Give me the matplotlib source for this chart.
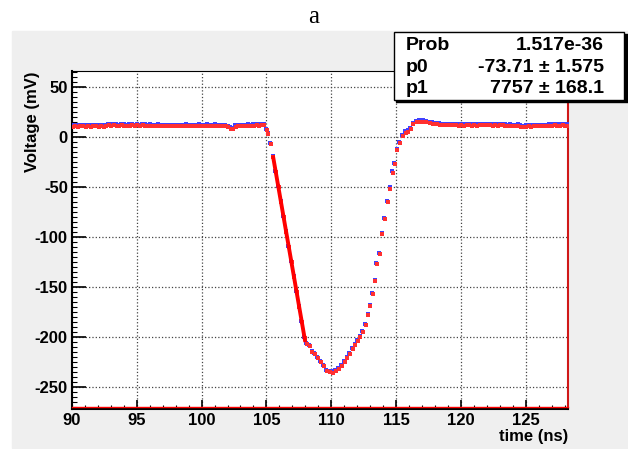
import numpy as np
import matplotlib.pyplot as plt
from matplotlib.patches import Rectangle
from matplotlib.ticker import MultipleLocator
from matplotlib.transforms import offset_copy

plt.rcParams['font.family'] = ['Liberation Sans', 'DejaVu Sans']
plt.rcParams['axes.unicode_minus'] = False

# baseline before the pulse (0.2 ns sampling)
pre_t = np.linspace(90.0, 104.8, 75)
pre_v = [11.8, 12.0, 11.6, 11.9, 12.1, 11.7, 12.0, 11.8, 12.2, 11.9,
         11.7, 12.1, 11.8, 12.4, 12.9, 12.6, 13.1, 12.7, 12.5, 13.0,
         12.6, 12.2, 12.8, 13.2, 12.5, 12.9, 12.4, 13.0, 12.7, 12.3,
         12.8, 12.5, 12.1, 12.6, 12.3, 12.0, 12.4, 11.9, 12.2, 12.5,
         12.1, 12.4, 12.0, 12.3, 12.6, 12.2, 12.5, 12.1, 12.4, 12.7,
         12.3, 12.5, 12.8, 12.4, 12.2, 12.6, 12.3, 12.0, 12.4, 11.9,
         11.5, 9.8, 9.5, 11.8, 12.3, 12.1, 12.5, 12.2, 12.6, 12.4,
         12.8, 13.0, 12.7, 13.2, 12.9]

# the pulse itself
pulse_t = [105.0, 105.1, 105.3, 105.5, 105.7, 105.9, 106.1, 106.3, 106.5,
           106.7, 106.9, 107.1, 107.3, 107.5, 107.7, 107.9, 108.05,
           108.28, 108.49, 108.7, 108.93, 109.16, 109.37, 109.63, 109.83,
           110.08, 110.33, 110.56, 110.77, 110.98, 111.2, 111.4, 111.61,
           111.8, 112.0, 112.2, 112.39, 112.6, 112.8, 112.98, 113.17,
           113.37, 113.48, 113.7, 113.9, 114.1, 114.3, 114.5, 114.7,
           114.87, 115.05, 115.26, 115.5, 115.7, 115.9, 116.1, 116.3,
           116.55, 116.8, 117.07, 117.3, 117.6, 117.8, 118.1, 118.35, 118.6]
pulse_v = [8.0, 4.0, -6.0, -19.0, -34.0, -49.0, -64.0, -79.0, -94.0,
           -109.0, -124.0, -139.0, -154.0, -169.0, -184.0, -200.0, -206.0,
           -208.0, -213.6, -216.0, -220.0, -224.0, -227.5, -232.8, -234.0,
           -234.4, -232.8, -231.0, -227.5, -224.0, -220.0, -216.0, -211.0,
           -207.0, -202.6, -199.0, -193.7, -187.0, -177.0, -168.0, -156.0,
           -142.7, -126.0, -116.0, -96.0, -81.0, -63.6, -50.3, -34.4,
           -26.0, -11.6, -5.0, 2.3, 5.6, 6.6, 9.3, 14.0,
           16.0, 16.6, 16.6, 16.0, 15.2, 14.6, 14.0, 13.6, 13.4]

# baseline after the pulse
post_t = np.linspace(118.8, 128.2, 48)
post_v = [13.3, 13.1, 13.2, 12.9, 13.1, 12.8, 13.0, 12.7, 12.9, 13.1,
          12.8, 13.0, 12.7, 13.2, 12.9, 13.1, 13.4, 13.0, 12.8, 13.1,
          12.7, 12.9, 13.0, 12.6, 12.4, 12.8, 12.5, 12.2, 12.6, 11.8,
          11.4, 11.6, 11.9, 11.7, 12.1, 12.0, 12.3, 12.2, 12.5, 12.4,
          12.7, 12.6, 12.9, 12.8, 12.6, 12.9, 12.7, 12.8]

# linear fit on the leading edge
fit_t = [105.5, 108.0]
fit_v = [-18.5, -205.0]

stat_names = ['Prob', 'p0', 'p1']
stat_values = ['1.517e-36', '-73.71 ± 1.575', '7757 ± 168.1']

t = np.concatenate([pre_t, pulse_t, post_t])
v = np.concatenate([pre_v, pulse_v, post_v])

W, H = 628, 449
fig = plt.figure(figsize=(W / 100, H / 100), dpi=100)


def fx(px):
    return px / W


def fy(py):
    return 1 - py / H


# grey canvas
fig.patches.append(Rectangle((fx(12), fy(448)), fx(628) - fx(12), fy(31) - fy(448),
                             transform=fig.transFigure, color='#efefef', zorder=-5))

ax = fig.add_axes([fx(72), fy(409), fx(568) - fx(72), fy(71) - fy(409)])
ax.set_zorder(1)
ax.set_facecolor('white')

ax.plot(t, v, 's', color='#4040ff', ms=2.3, mew=0, zorder=3)
red_tr = offset_copy(ax.transData, fig=fig, x=0.6, y=-1.3, units='dots')
ax.plot(t, v, 's', color='#ff3030', ms=2.3, mew=0, transform=red_tr, zorder=4)
ax.plot(fit_t, fit_v, '-', color='red', lw=2.8, zorder=5, solid_capstyle='butt')

ax.set_xlim(90, 128.27)
ax.set_ylim(-272, 66)
ax.xaxis.set_major_locator(MultipleLocator(5))
ax.xaxis.set_minor_locator(MultipleLocator(1))
ax.yaxis.set_major_locator(MultipleLocator(50))
ax.yaxis.set_minor_locator(MultipleLocator(5))
ax.grid(True, which='major', linestyle=':', color='#444444', lw=0.9)

ax.tick_params(axis='both', which='both', direction='in', top=False, right=False,
               labelsize=12, color='black')
ax.tick_params(axis='y', which='major', length=10, width=1.2, pad=3)
ax.tick_params(axis='y', which='minor', length=3.5, width=0.8)
ax.tick_params(axis='x', which='major', length=6.5, width=1.2, pad=3)
ax.tick_params(axis='x', which='minor', length=3, width=0.8)
for lab in ax.get_xticklabels() + ax.get_yticklabels():
    lab.set_fontweight('bold')

ax.spines['left'].set_linewidth(1.5)
ax.spines['bottom'].set_linewidth(1.5)
ax.spines['top'].set_linewidth(0.8)
ax.spines['right'].set_color('#d01818')
ax.spines['right'].set_linewidth(1.5)
ax.plot([0, 1], [0.006, 0.006], transform=ax.transAxes, color='red', lw=1.0,
        zorder=6, clip_on=False)

fig.text(fx(568), fy(436), 'time (ns)', ha='right', va='center', fontsize=12,
         fontweight='bold')
fig.text(fx(33), fy(72), 'Voltage (mV)', ha='center', va='top', rotation=90,
         fontsize=12, fontweight='bold')
fig.text(fx(314), fy(23), 'a', ha='center', va='baseline', fontsize=18,
         family='Liberation Serif')

# stats box with shadow, drawn above the axes
box_ax = fig.add_axes([0, 0, 1, 1], facecolor='none')
box_ax.set_zorder(2)
box_ax.set_axis_off()
box_ax.add_patch(Rectangle((fx(396), fy(102)), fx(626) - fx(394), fy(32) - fy(100),
                           transform=fig.transFigure, color='black'))
box_ax.add_patch(Rectangle((fx(394), fy(100)), fx(624) - fx(394), fy(32) - fy(100),
                           transform=fig.transFigure, facecolor='white',
                           edgecolor='black', lw=1.0))
baselines = [50, 72, 93]
for name, val, yb in zip(stat_names, stat_values, baselines):
    box_ax.text(fx(406), fy(yb), name, ha='left', va='baseline', fontsize=14,
                fontweight='bold', transform=fig.transFigure)
    box_ax.text(fx(604), fy(yb), val, ha='right', va='baseline', fontsize=14,
                fontweight='bold', transform=fig.transFigure)

fig.savefig('out.png', dpi=100)
